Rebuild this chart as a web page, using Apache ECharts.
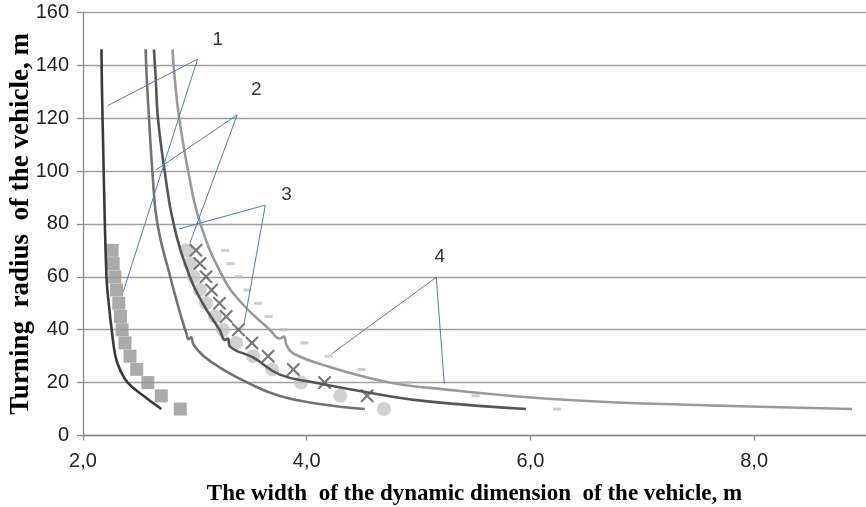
<!DOCTYPE html>
<html>
<head>
<meta charset="utf-8">
<script src="https://cdn.jsdelivr.net/npm/echarts@6/dist/echarts.min.js"></script>
<style>html,body{margin:0;padding:0;background:#fff}#c{width:866px;height:507px}</style>
</head>
<body>
<div id="c"></div>
<script>
// ---- data ----
const xTickValues = [2, 4, 6, 8];
const yTickValues = [0, 20, 40, 60, 80, 100, 120, 140, 160];

const curve1X = [2.165, 2.17, 2.18, 2.19, 2.21, 2.23, 2.256, 2.29, 2.33, 2.40, 2.54, 2.70];
const curve1Y = [146, 130, 110, 90, 60, 50, 40, 30, 25, 20, 15, 10];

const curve2X = [2.56, 2.57, 2.59, 2.62, 2.665, 2.78, 2.87, 2.925, 2.945, 2.965, 2.99, 3.08, 3.25, 3.47, 3.76, 4.10, 4.52];
const curve2Y = [146, 135, 120, 100, 80, 60, 46, 38.5, 36.4, 37.1, 34.2, 30, 25, 20, 14.9, 12, 10];

const curve3X = [2.634, 2.65, 2.67, 2.73, 2.81, 2.955, 3.07, 3.22, 3.27, 3.295, 3.315, 3.52, 3.76, 4.07, 4.65, 5.10, 5.96];
const curve3Y = [146, 135, 120, 100, 80, 60, 50, 40, 36.1, 36.7, 33.6, 29.5, 23, 20, 15.5, 12.8, 10];

const curve4X = [2.80, 2.82, 2.86, 2.94, 3.05, 3.25, 3.42, 3.67, 3.76, 3.795, 3.82, 3.88, 4.20, 4.74, 5.10, 6.30, 7.60, 8.875];
const curve4Y = [146, 135, 120, 100, 80, 60, 50, 40, 36.7, 37.4, 34.2, 31, 26, 20, 18, 13.5, 11.4, 10];

const squareX = [2.26, 2.27, 2.285, 2.30, 2.32, 2.335, 2.35, 2.375, 2.42, 2.48, 2.58, 2.70, 2.87];
const squareY = [70, 65, 60, 55, 50, 45, 40, 35, 30, 25, 20, 15, 10];

const circleX = [2.92, 2.955, 2.99, 3.045, 3.10, 3.18, 3.25, 3.37, 3.52, 3.69, 3.95, 4.30, 4.69];
const circleY = [70, 65, 60, 55, 50, 45, 40, 35, 30, 25, 20, 15, 10];

const crossX = [3.01, 3.045, 3.10, 3.15, 3.22, 3.28, 3.39, 3.51, 3.655, 3.88, 4.16, 4.54];
const crossY = [70, 65, 60, 55, 50, 45, 40, 35, 30, 25, 20, 15];

const dashX = [3.27, 3.32, 3.39, 3.47, 3.565, 3.66, 3.795, 3.98, 4.196, 4.49, 4.90, 5.51, 6.24];
const dashY = [70, 65, 60, 55, 50, 45, 40, 35, 30, 25, 20, 15, 10];

// leader lines: [endA, vertex, endB] for labels 1..4
const leaderX = [[2.22, 3.024, 2.36], [2.652, 3.378, 2.955], [2.86, 3.63, 3.44], [4.22, 5.158, 5.23]];
const leaderY = [[124.7, 142.3, 54.4], [100.4, 121.2, 72.7], [78.1, 87.1, 42.2], [30.8, 59.8, 19.5]];
const labelText = ['1', '2', '3', '4'];
const labelX = [3.206, 3.55, 3.82, 5.19];
const labelY = [149.5, 130.6, 90.9, 67.6];

const xTitle = 'The width  of the dynamic dimension  of the vehicle, m';
const yTitle = 'Turning  radius  of the vehicle, m';

// ---- build ----
const zip = (xs, ys) => xs.map((x, i) => [x, ys[i]]);
const tickFont = '"Liberation Sans", Arial, sans-serif';
const titleFont = '"Liberation Serif", "Times New Roman", serif';

function curve(xs, ys, color) {
  return {
    type: 'line', data: zip(xs, ys), showSymbol: false, symbol: 'none',
    smooth: 0.45,
    lineStyle: { color: color, width: 2.6 }, z: 3, silent: true
  };
}

const series = [
  { type: 'scatter', data: zip(squareX, squareY), symbol: 'rect', symbolSize: 13,
    itemStyle: { color: '#959595' }, z: 2 },
  { type: 'scatter', data: zip(circleX, circleY), symbol: 'circle', symbolSize: 14,
    itemStyle: { color: '#c6c6c6' }, z: 2 },
  { type: 'scatter', data: zip(crossX, crossY),
    symbol: 'path://M0,0L1.2,0L10,8.8L10,10L8.8,10L0,1.2Z M8.8,0L10,0L10,1.2L1.2,10L0,10L0,8.8Z',
    symbolSize: 13, itemStyle: { color: '#5a5a5a' }, z: 2 },
  { type: 'scatter', data: zip(dashX, dashY), symbol: 'rect', symbolSize: [8, 3],
    itemStyle: { color: '#c0c0c0' }, z: 2 },
  curve(curve1X, curve1Y, '#3a3a3a'),
  curve(curve2X, curve2Y, '#727272'),
  curve(curve3X, curve3Y, '#555555'),
  curve(curve4X, curve4Y, '#9a9a9a')
];

leaderX.forEach((xs, i) => {
  series.push({
    type: 'line', data: zip(xs, leaderY[i]), symbol: 'none', showSymbol: false,
    lineStyle: { color: '#4a7ebb', width: 1 }, z: 5, silent: true
  });
});

series.push({
  type: 'scatter', symbolSize: 1, itemStyle: { color: 'rgba(0,0,0,0)' }, z: 6,
  data: labelX.map((x, i) => ({ value: [x, labelY[i]], name: labelText[i] })),
  label: { show: true, position: 'inside', formatter: p => p.name,
           fontFamily: tickFont, fontSize: 19, color: '#000' }
});

const chart = echarts.init(document.getElementById('c'), null, { renderer: 'canvas' });
chart.setOption({
  animation: false,
  backgroundColor: '#fff',
  grid: { left: 83, right: 0, top: 12.3, bottom: 71.5, containLabel: false, outerBoundsMode: 'none' },
  xAxis: {
    type: 'value', min: 2, max: 9, interval: 2,
    name: xTitle, nameLocation: 'middle', nameGap: 47, nameMoveOverlap: false,
    nameTextStyle: { fontFamily: titleFont, fontWeight: 'bold', fontSize: 23, color: '#000' },
    axisLine: { show: true, lineStyle: { color: '#8c8c8c', width: 1.3 } },
    axisTick: { show: true, length: 5, lineStyle: { color: '#8c8c8c', width: 1.3 } },
    splitLine: { show: false },
    axisLabel: { showMaxLabel: false, margin: 16, fontFamily: tickFont, fontSize: 20, color: '#222',
      formatter: v => xTickValues.indexOf(v) >= 0 ? v.toFixed(1).replace('.', ',') : '' }
  },
  yAxis: {
    type: 'value', min: 0, max: 160, interval: 20,
    name: yTitle, nameLocation: 'middle', nameGap: 48, nameRotate: 90, nameMoveOverlap: false,
    nameTextStyle: { fontFamily: titleFont, fontWeight: 'bold', fontSize: 27, color: '#000' },
    axisLine: { show: true, lineStyle: { color: '#8c8c8c', width: 1.3 } },
    axisTick: { show: true, length: 6, lineStyle: { color: '#8c8c8c', width: 1.3 } },
    splitLine: { show: true, lineStyle: { color: '#a0a0a0', width: 1.3 } },
    axisLabel: { margin: 14, fontFamily: tickFont, fontSize: 20, color: '#222',
      formatter: v => yTickValues.indexOf(v) >= 0 ? String(v) : '' }
  },
  series: series
});
</script>
</body>
</html>
